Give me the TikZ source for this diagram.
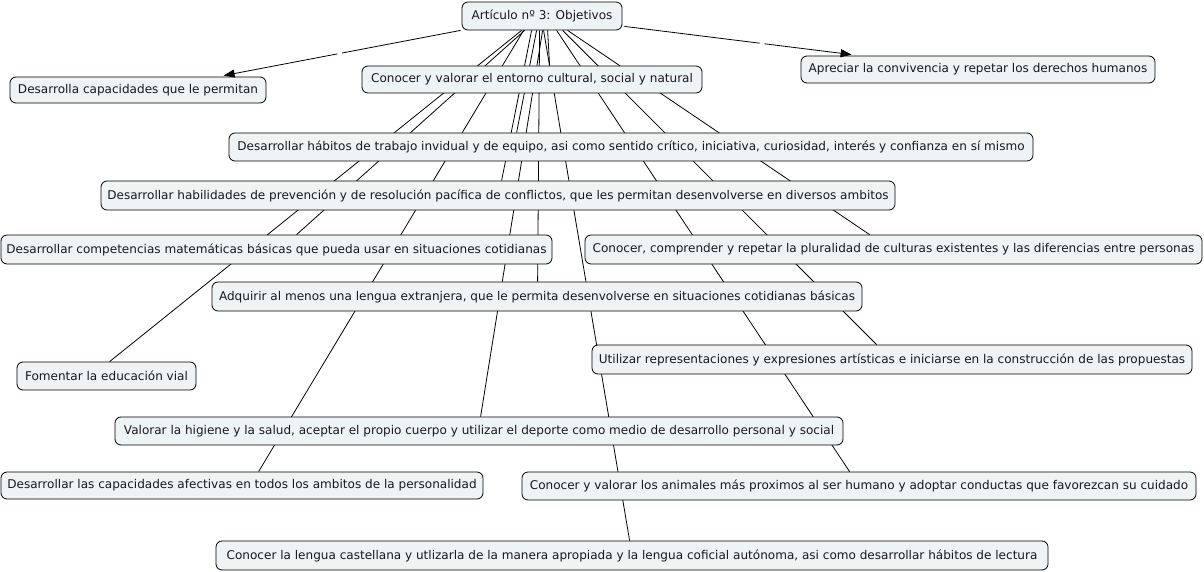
\documentclass[tikz,border=0pt]{standalone}
\usepackage{fontspec}
\setmainfont{DejaVu Sans}
\usetikzlibrary{arrows.meta,backgrounds,calc}
\definecolor{boxfill}{RGB}{238,244,246}
\begin{document}
\begin{tikzpicture}[x=1pt,y=-1pt,
  box/.style={draw=black, line width=0.8pt, rounded corners=6pt, fill=boxfill, inner sep=0pt, text=black!90, font=\fontsize{12.05}{14}\selectfont},
  link/.style={line width=0.8pt},
  arr/.style={line width=0.8pt, -{Triangle[length=11pt,width=8pt]}}]
\useasboundingbox (0,0) rectangle (1204,572);
\node[box, minimum width=160pt, minimum height=28pt] (root) at (542,16) {Artículo nº 3: Objetivos};
\node[box, minimum width=256pt, minimum height=26pt] (desarrolla) at (138,90) {Desarrolla capacidades que le permitan};
\node[box, minimum width=340pt, minimum height=27pt] (cyv) at (532,79.5) {Conocer y valorar el entorno cultural, social y natural};
\node[box, minimum width=354pt, minimum height=27pt] (apreciar) at (978,69.5) {Apreciar la convivencia y repetar los derechos humanos};
\node[box, minimum width=804pt, minimum height=28pt] (habitos) at (631,147) {Desarrollar hábitos de trabajo invidual y de equipo, asi como sentido crítico, iniciativa, curiosidad, interés y confianza en sí mismo};
\node[box, minimum width=794pt, minimum height=29pt] (habilidades) at (498,195.5) {Desarrollar habilidades de prevención y de resolución pacífica de conflictos, que les permitan desenvolverse en diversos ambitos};
\node[box, minimum width=551pt, minimum height=29pt] (competencias) at (276.5,249.5) {Desarrollar competencias matemáticas básicas que pueda usar en situaciones cotidianas};
\node[box, minimum width=617pt, minimum height=29pt] (comprender) at (893.5,249.5) {Conocer, comprender y repetar la pluralidad de culturas existentes y las diferencias entre personas};
\node[box, minimum width=650pt, minimum height=29pt] (adquirir) at (537,296.5) {Adquirir al menos una lengua extranjera, que le permita desenvolverse en situaciones cotidianas básicas};
\node[box, minimum width=600pt, minimum height=29pt] (utilizar) at (892,359.5) {Utilizar representaciones y expresiones artísticas e iniciarse en la construcción de las propuestas};
\node[box, minimum width=179pt, minimum height=28pt] (fomentar) at (106.5,376) {Fomentar la educación vial};
\node[box, minimum width=728pt, minimum height=28pt] (valorar) at (479,431) {Valorar la higiene y la salud, aceptar el propio cuerpo y utilizar el deporte como medio de desarrollo personal y social};
\node[box, minimum width=482pt, minimum height=27pt] (afectivas) at (242,485.5) {Desarrollar las capacidades afectivas en todos los ambitos de la personalidad};
\node[box, minimum width=674pt, minimum height=28pt] (animales) at (859,486) {Conocer y valorar los animales más proximos al ser humano y adoptar conductas que favorezcan su cuidado};
\node[box, minimum width=832pt, minimum height=29pt] (castellana) at (632,555.5) {Conocer la lengua castellana y utlizarla de la manera apropiada y la lengua coficial autónoma, asi como desarrollar hábitos de lectura};
\begin{scope}[on background layer]
\draw[link] ([xshift=60pt]root.south west) -- ([xshift=93pt]fomentar.north west);
\draw[link] ([xshift=63pt]root.south west) -- ([xshift=296pt]competencias.north west);
\draw[link] ([xshift=62pt]root.south west) -- ([xshift=258pt]afectivas.north west);
\draw[link] ([xshift=70pt]root.south west) -- ([xshift=401pt]habilidades.north west);
\draw[link] ([xshift=75pt]root.south west) -- ([xshift=288pt]habitos.north west);
\draw[link] ([xshift=78pt]root.south west) -- ([xshift=326pt]adquirir.north west);
\draw[link] ([xshift=81pt]root.south west) -- ([xshift=366pt]valorar.north west);
\draw[link] ([xshift=82pt]root.south west) -- ([xshift=414pt]castellana.north west);
\draw[link] ([xshift=86pt]root.south west) -- ([xshift=188pt]cyv.north west);
\draw[link] ([xshift=95pt]root.south west) -- ([xshift=328pt]animales.north west);
\draw[link] ([xshift=101pt]root.south west) -- ([xshift=285pt]utilizar.north west);
\draw[link] ([xshift=106pt]root.south west) -- ([xshift=285pt]comprender.north west);
\end{scope}
\coordinate (a1) at ([xshift=-1pt]root.south west);
\coordinate (a2) at ([xshift=214pt,yshift=1pt]desarrolla.north west);
\draw[link] (a1) -- ($(a1)!0.50!(a2)$);
\draw[arr] ($(a1)!0.52!(a2)$) -- (a2);
\coordinate (b1) at ([xshift=2pt,yshift=4pt]root.south east);
\coordinate (b2) at ([xshift=51pt,yshift=1pt]apreciar.north west);
\draw[link] (b1) -- ($(b1)!0.595!(b2)$);
\draw[arr] ($(b1)!0.617!(b2)$) -- (b2);
\end{tikzpicture}
\end{document}
